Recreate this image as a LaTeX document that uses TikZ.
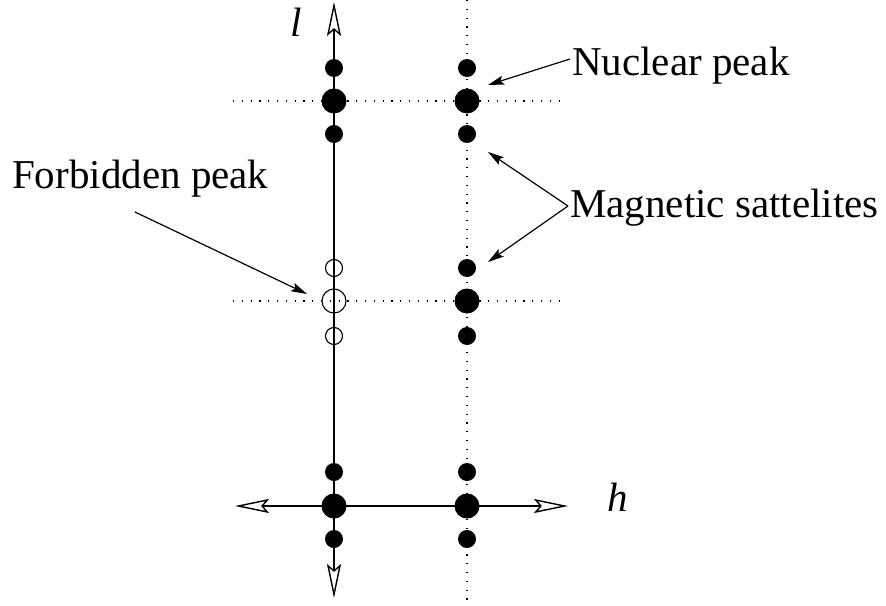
\documentclass[tikz,border=0pt]{standalone}
\usepackage{fontspec}
\setmainfont{Liberation Serif}
\usetikzlibrary{arrows.meta,positioning}

\begin{document}
\begin{tikzpicture}[
  x=1pt,y=-1pt,
  font=\fontsize{41}{48}\selectfont,
  bigpeak/.style={circle,fill=black,minimum size=25pt,inner sep=0pt},
  smallpeak/.style={circle,fill=black,minimum size=18pt,inner sep=0pt},
  bigforb/.style={circle,draw=black,line width=1.1pt,minimum size=24pt,inner sep=0pt},
  smallforb/.style={circle,draw=black,line width=1.1pt,minimum size=17pt,inner sep=0pt},
  axis/.style={line width=1.4pt,{Stealth[open,length=34pt,width=14pt,inset=6pt]}-{Stealth[open,length=34pt,width=14pt,inset=6pt]}},
  grid/.style={line width=1.2pt,dash pattern=on 1.2pt off 7.6pt},
  pointer/.style={line width=1.2pt,-{Stealth[length=16pt,width=9pt,inset=3pt]}},
  lbl/.style={anchor=base west,inner sep=0pt}
]
  \useasboundingbox (0,0) rectangle (886,605);

  % reflection lines
  \coordinate (vtop) at (467,0);
  \coordinate (vbot) at (467,600);
  \coordinate (ntl) at (233,101);
  \coordinate (ntr) at (566,101);
  \coordinate (ftl) at (233,301);
  \coordinate (ftr) at (566,301);
  \draw[grid] (vtop)--(vbot);
  \draw[grid] (ntl)--(ntr);
  \draw[grid] (ftl)--(ftr);

  % axes
  \coordinate (lt) at (334,2);
  \coordinate (lb) at (334,598);
  \coordinate (hl) at (235,506);
  \coordinate (hr) at (568,506);
  \draw[axis] (lb)--(lt);
  \draw[axis] (hl)--(hr);
  \node at (296,22) {\itshape l};
  \node at (618,497) {\itshape h};

  % peaks
  \node[smallpeak] (a1) at (334,68) {};
  \node[bigpeak]   (a2) at (334,101) {};
  \node[smallpeak] (a3) at (334,134) {};
  \node[smallpeak] (b1) at (467,68) {};
  \node[bigpeak]   (b2) at (467,101) {};
  \node[smallpeak] (b3) at (467,134) {};
  \node[smallforb] (c1) at (334,268) {};
  \node[bigforb]   (c2) at (334,301) {};
  \node[smallforb] (c3) at (334,336) {};
  \node[smallpeak] (d1) at (467,268) {};
  \node[bigpeak]   (d2) at (467,301) {};
  \node[smallpeak] (d3) at (467,336) {};
  \node[smallpeak] (e1) at (334,472) {};
  \node[bigpeak]   (e2) at (334,506) {};
  \node[smallpeak] (e3) at (334,539) {};
  \node[smallpeak] (f1) at (467,472) {};
  \node[bigpeak]   (f2) at (467,506) {};
  \node[smallpeak] (f3) at (467,539) {};

  % labels
  \node[lbl] (nuc) at (572,75) {Nuclear peak};
  \node[lbl] (mag) at (570,217) {Magnetic sattelites};
  \node[lbl] (forb) at (12,188) {Forbidden peak};

  \coordinate (nucstart) at (570,59);
  \coordinate (nucend) at (488,85);
  \coordinate (magstart) at (568,206);
  \coordinate (magup) at (488,152);
  \coordinate (magdn) at (488,262);
  \coordinate (forbend) at (307,294);
  \coordinate (forbstart) at (135,212);
  \draw[pointer] (nucstart)--(nucend);
  \draw[pointer] (magstart)--(magup);
  \draw[pointer] (magstart)--(magdn);
  \draw[pointer] (forbstart)--(forbend);
\end{tikzpicture}
\end{document}
